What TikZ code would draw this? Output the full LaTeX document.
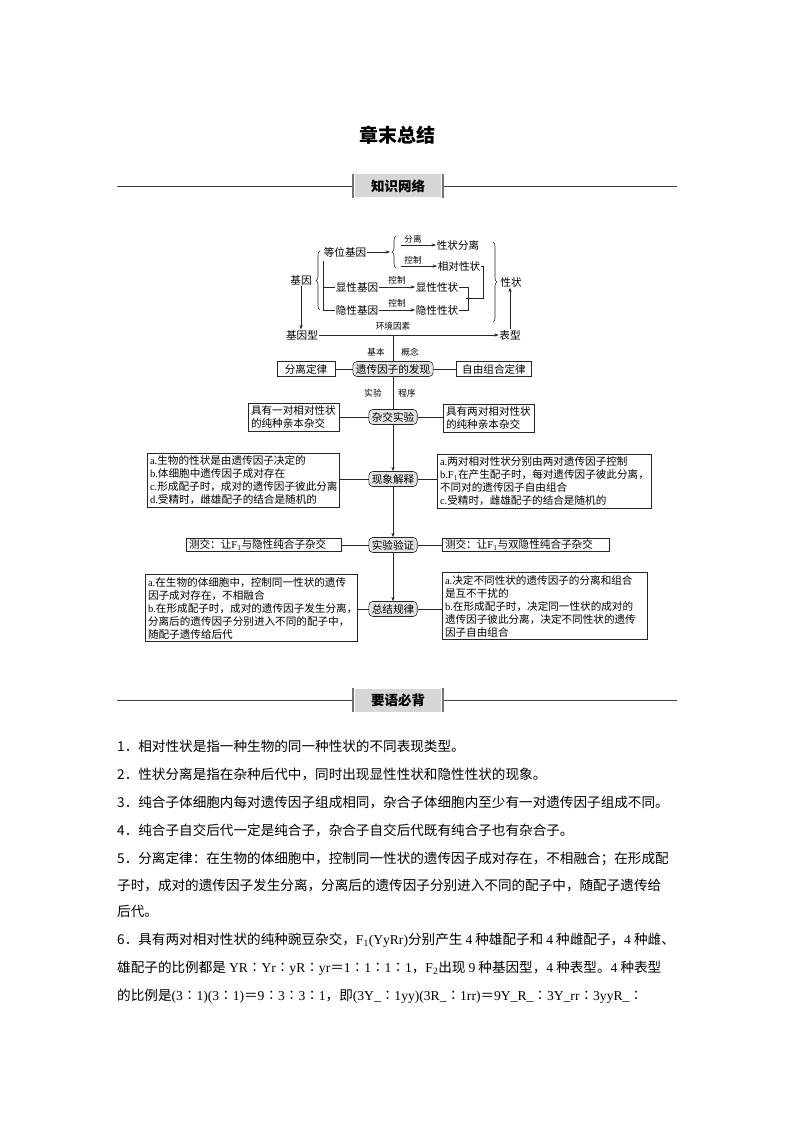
\documentclass[tikz,border=0pt]{standalone}
\usepackage{fontspec}
\setmainfont{Noto Sans CJK SC}
\newfontfamily\lat{Liberation Serif}
\usetikzlibrary{arrows.meta,decorations.pathreplacing}
\begin{document}
\begin{tikzpicture}[x=1pt,y=-1pt,
  ln/.style={line width=0.6pt, draw=black!85},
  arr/.style={ln, -{Stealth[length=4.5pt,width=3.2pt]}},
  tx/.style={font=\fontsize{10.6}{12}\selectfont, inner sep=0.5pt},
  sm/.style={font=\fontsize{8.6}{10}\selectfont, inner sep=0.5pt},
  bx/.style={draw=black!85, line width=0.6pt, font=\fontsize{10.6}{13}\selectfont, align=left, inner xsep=2.5pt, inner ysep=2.5pt},
  rb/.style={draw=black!85, line width=0.6pt, rounded corners=4pt, fill=gray!20, font=\fontsize{10.6}{12}\selectfont, inner xsep=3pt, inner ysep=1.5pt, minimum height=15pt},
  sb/.style={draw=black!85, line width=0.6pt, font=\fontsize{10.6}{12}\selectfont, inner sep=1pt, minimum height=15pt},
  br/.style={ln, decorate, decoration={brace, amplitude=4pt}},
  body/.style={font=\fontsize{13.6}{16}\selectfont, anchor=base west, inner sep=0pt},
  hdbox/.style={fill=gray!32, minimum width=86pt, minimum height=23pt, inner sep=0pt, font=\fontsize{13.5}{15}\selectfont\bfseries},
  hdline/.style={line width=0.8pt, draw=black!75},
  hdbar/.style={line width=1.4pt, draw=black!55}
]
\useasboundingbox (0,0) rectangle (794,1123);
\fill[white] (0,0) rectangle (794,1123);

% title
\node[font=\fontsize{19}{22}\selectfont\bfseries, inner sep=0pt] (title) at (397,135) {章末总结};

% header 1
\draw[hdline] (117,186) -- (352,186);
\draw[hdline] (444,186) -- (677,186);
\node[hdbox] (h1) at (398,186) {知识网络};
\draw[hdbar] (353,174) -- (353,198);
\draw[hdbar] (443,174) -- (443,198);

% ---------- top part ----------
\node[tx] (dw) at (345,252) {等位基因};
\coordinate (b1) at (390,252);
\draw[arr] (dw) -- (b1);
\draw[br] (396,268) -- (396,236);
\node[tx] (xzfl) at (458,245) {性状分离};
\node[tx] (xdxz) at (459,266) {相对性状};
\coordinate (a1) at (401,245);
\coordinate (a2) at (401,266);
\draw[arr] (a1) -- (xzfl);
\draw[arr] (a2) -- (xdxz);
\node[sm] (l1) at (413,239) {分离};
\node[sm] (l2) at (413,260) {控制};

\node[tx] (jy) at (301,280) {基因};
\draw[br] (320,310) -- (320,251);
\node[tx] (xxjy) at (357,287) {显性基因};
\node[tx] (yxjy) at (357,310) {隐性基因};
\coordinate (v1) at (323,261);
\coordinate (v2) at (323,287);
\draw[ln] (v1) |- (yxjy.west);
\draw[ln] (v2) -- (xxjy.west);
\node[tx] (xxxz) at (437,287) {显性性状};
\node[tx] (yxxz) at (437,310) {隐性性状};
\draw[arr] (xxjy) -- (xxxz);
\draw[arr] (yxjy) -- (yxxz);
\node[sm] (l3) at (397,280) {控制};
\node[sm] (l4) at (397,303) {控制};
\coordinate (m1) at (466,298);
\draw[ln] (xxxz.east) -- ++(9,0) |- (yxxz.east);
\draw[ln] (m1) -- (483,298) |- (xdxz.east);
\draw[br] (493,242) -- (493,322);
\node[tx] (xz) at (511,282) {性状};
\node[tx] (jyx) at (302,335) {基因型};
\node[tx] (bxx) at (510,335) {表型};
\draw[arr] (jy.south) -- (jy.south |- jyx.north);
\draw[arr] (jyx) -- (bxx);
\node[sm] (l5) at (393,326) {环境因素};
\draw[arr] (bxx.north) -- (bxx.north |- xz.south);

% ---------- main spine ----------
\coordinate (sp) at (393,335);
\node[rb] (fx) at (393,369) {遗传因子的发现};
\draw[ln] (sp) -- (fx);
\node[sm] (l6) at (376,352) {基本};
\node[sm] (l7) at (410,352) {概念};
\node[sb, minimum width=58pt] (fl) at (306,369) {分离定律};
\node[sb, minimum width=75pt] (zy) at (494,369) {自由组合定律};
\draw[ln] (fl) -- (fx);
\draw[ln] (fx) -- (zy);
\node[sm] (l8) at (373,393) {实验};
\node[sm] (l9) at (407,393) {程序};
\node[rb] (zj) at (393,417) {杂交实验};
\draw[ln] (fx) -- (zj);
\node[bx, text width=86pt] (L1) at (294,417) {具有一对相对性状\\的纯种亲本杂交};
\node[bx, text width=86pt] (R1) at (489,418) {具有两对相对性状\\的纯种亲本杂交};
\draw[ln] (zj.west) -- (zj.west -| L1.east);
\draw[ln] (zj.east) -- (zj.east -| R1.west);

\node[rb] (xj) at (393,479) {现象解释};
\draw[arr] (zj) -- (xj);
\node[bx, text width=187pt] (L2) at (243.5,480) {{\lat a.}生物的性状是由遗传因子决定的\\{\lat b.}体细胞中遗传因子成对存在\\{\lat c.}形成配子时，成对的遗传因子彼此分离\\{\lat d.}受精时，雌雄配子的结合是随机的};
\node[bx, text width=209pt] (R2) at (544.5,481) {{\lat a.}两对相对性状分别由两对遗传因子控制\\{\lat b.F\textsubscript{1}}在产生配子时，每对遗传因子彼此分离，\\不同对的遗传因子自由组合\\{\lat c.}受精时，雌雄配子的结合是随机的};
\draw[ln] (xj.west) -- (xj.west -| L2.east);
\draw[ln] (xj.east) -- (xj.east -| R2.west);

\node[rb] (sy) at (393,545) {实验验证};
\draw[arr] (xj) -- (sy);
\node[bx, text width=150pt, inner ysep=1pt] (L3) at (264,545) {测交：让{\lat F\textsubscript{1}}与隐性纯合子杂交};
\node[bx, text width=162pt, inner ysep=1pt] (R3) at (526,545) {测交：让{\lat F\textsubscript{1}}与双隐性纯合子杂交};
\draw[ln] (sy.west) -- (sy.west -| L3.east);
\draw[ln] (sy.east) -- (sy.east -| R3.west);

\node[rb] (zg) at (393,609) {总结规律};
\draw[arr] (sy) -- (zg);
\node[bx, text width=207pt] (L4) at (251.5,608) {{\lat a.}在生物的体细胞中，控制同一性状的遗传\\因子成对存在，不相融合\\{\lat b.}在形成配子时，成对的遗传因子发生分离，\\分离后的遗传因子分别进入不同的配子中，\\随配子遗传给后代};
\node[bx, text width=200pt] (R4) at (545,606) {{\lat a.}决定不同性状的遗传因子的分离和组合\\是互不干扰的\\{\lat b.}在形成配子时，决定同一性状的成对的\\遗传因子彼此分离，决定不同性状的遗传\\因子自由组合};
\draw[ln] (zg.west) -- (zg.west -| L4.east);
\draw[ln] (zg.east) -- (zg.east -| R4.west);

% header 2
\draw[hdline] (117,700) -- (352,700);
\draw[hdline] (444,700) -- (677,700);
\node[hdbox] (h2) at (398,700) {要语必背};
\draw[hdbar] (353,688) -- (353,712);
\draw[hdbar] (443,688) -- (443,712);

% body
\node[body] (t1) at (117,751) {1．相对性状是指一种生物的同一种性状的不同表现类型。};
\node[body] (t2) at (117,779) {2．性状分离是指在杂种后代中，同时出现显性性状和隐性性状的现象。};
\node[body] (t3) at (117,807) {3．纯合子体细胞内每对遗传因子组成相同，杂合子体细胞内至少有一对遗传因子组成不同。};
\node[body] (t4) at (117,835) {4．纯合子自交后代一定是纯合子，杂合子自交后代既有纯合子也有杂合子。};
\node[body] (t5) at (117,863) {5．分离定律：在生物的体细胞中，控制同一性状的遗传因子成对存在，不相融合；在形成配};
\node[body] (t6) at (117,890) {子时，成对的遗传因子发生分离，分离后的遗传因子分别进入不同的配子中，随配子遗传给};
\node[body] (t7) at (117,916) {后代。};
\node[body] (t8) at (117,944) {6．具有两对相对性状的纯种豌豆杂交，{\lat F\textsubscript{1}(YyRr)}分别产生 {\lat 4} 种雄配子和 {\lat 4} 种雌配子，{\lat 4} 种雌、};
\node[body] (t9) at (117,972) {雄配子的比例都是 {\lat YR}∶{\lat Yr}∶{\lat yR}∶{\lat yr}＝{\lat 1}∶{\lat 1}∶{\lat 1}∶{\lat 1}，{\lat F\textsubscript{2}}出现 {\lat 9} 种基因型，{\lat 4} 种表型。{\lat 4} 种表型};
\node[body] (t10) at (117,1000) {的比例是{\lat (3}∶{\lat 1)(3}∶{\lat 1)}＝{\lat 9}∶{\lat 3}∶{\lat 3}∶{\lat 1}，即{\lat (3Y\_}∶{\lat 1yy)(3R\_}∶{\lat 1rr)}＝{\lat 9Y\_R\_}∶{\lat 3Y\_rr}∶{\lat 3yyR\_}∶};
\end{tikzpicture}
\end{document}
